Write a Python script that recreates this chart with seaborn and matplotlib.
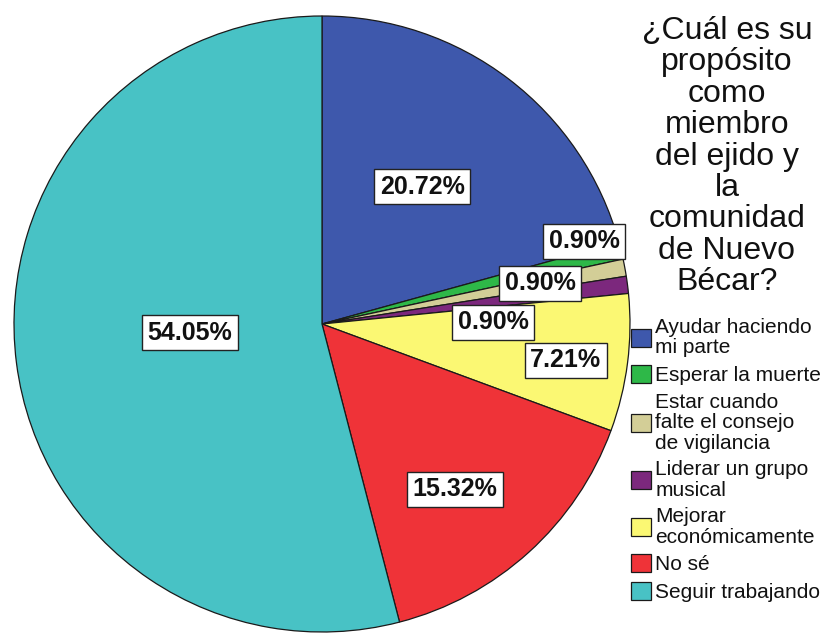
import matplotlib
matplotlib.use("Agg")
import matplotlib.pyplot as plt
import seaborn as sns

# Survey answers and their shares (%)
categories = [
    "Ayudar haciendo\nmi parte",
    "Esperar la muerte",
    "Estar cuando\nfalte el consejo\nde vigilancia",
    "Liderar un grupo\nmusical",
    "Mejorar\neconómicamente",
    "No sé",
    "Seguir trabajando",
]
shares = [20.72, 0.90, 0.90, 0.90, 7.21, 15.32, 54.05]
title = "¿Cuál es su\npropósito\ncomo\nmiembro\ndel ejido y\nla\ncomunidad\nde Nuevo\nBécar?"

colors = sns.color_palette(["#3E58AC", "#2EB848", "#D3CE97", "#7C287D",
                            "#FBF873", "#EF3338", "#48C2C5"])

# Label anchor points (pie data units), nudged apart for the thin slices
label_xy = [(0.325, 0.445), (0.851, 0.269), (0.708, 0.133), (0.555, 0.006),
            (0.792, -0.117), (0.432, -0.536), (-0.429, -0.029)]

sns.set_theme(style="white")
plt.rcParams["font.family"] = ["Liberation Sans", "DejaVu Sans"]

W, H = 824, 637
fig = plt.figure(figsize=(W / 100, H / 100), dpi=100)
fig.patch.set_facecolor("white")

cx, cy, r = 322, 324, 308
ax = fig.add_axes([(cx - r) / W, (H - cy - r) / H, 2 * r / W, 2 * r / H])
wedges, _ = ax.pie(shares, colors=colors, startangle=90, counterclock=False,
                   radius=1.0,
                   wedgeprops=dict(edgecolor="#1a1a1a", linewidth=0.9))
ax.set_xlim(-1, 1)
ax.set_ylim(-1, 1)
ax.set_aspect("equal")
ax.axis("off")

for v, (x, y) in zip(shares, label_xy):
    ax.text(x, y, f"{v:.2f}%", ha="center", va="center", fontsize=18,
            fontweight="bold", color="#111111",
            bbox=dict(boxstyle="square,pad=0.22", facecolor="white",
                      edgecolor="#222222", linewidth=1.0))

fig.text(727 / W, 1 - 16 / H, title, ha="center", va="top", fontsize=23,
         linespacing=1.06, color="#111111")

leg = fig.legend(wedges, categories, loc="upper left",
                 bbox_to_anchor=(631 / W, 1 - 318 / H),
                 bbox_transform=fig.transFigure, frameon=False,
                 fontsize=15, handlelength=0.95, handleheight=0.95,
                 handletextpad=0.22, labelspacing=0.36, borderpad=0,
                 borderaxespad=0)
for t in leg.get_texts():
    t.set_linespacing(1.1)
    t.set_color("#111111")

fig.savefig("out.png", dpi=100, facecolor="white")
